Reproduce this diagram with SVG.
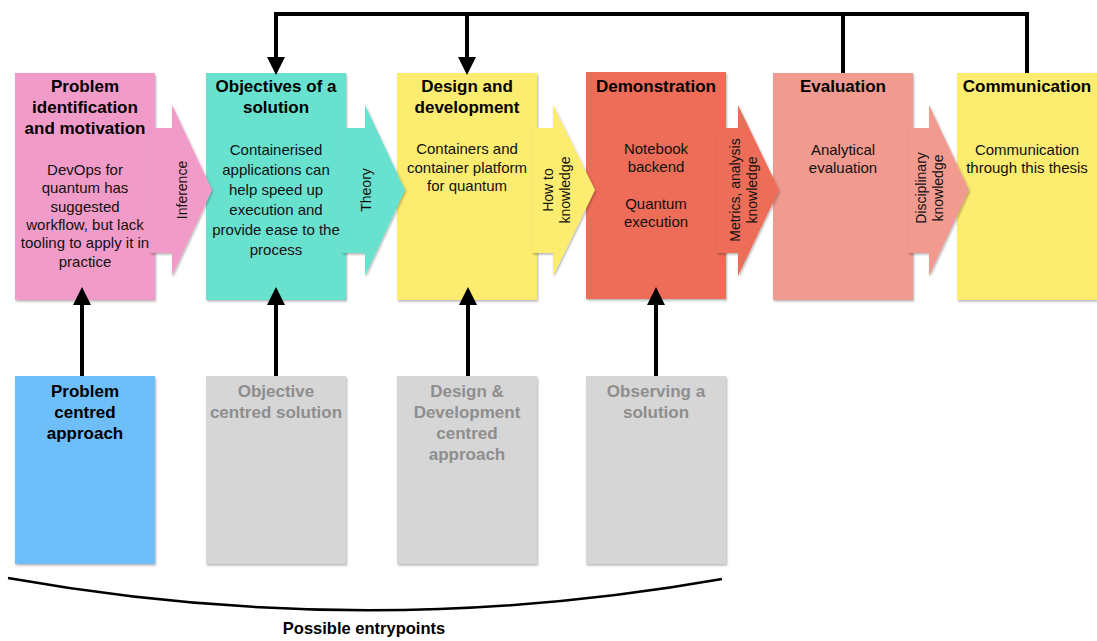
<svg xmlns="http://www.w3.org/2000/svg" width="1097" height="641" viewBox="0 0 1097 641">
<defs>
<filter id="sh" x="-10%" y="-10%" width="130%" height="130%">
<feDropShadow dx="1" dy="1.5" stdDeviation="1.2" flood-color="#000" flood-opacity="0.3"/>
</filter>
</defs>
<style>
text{font-family:"Liberation Sans",Arial,Helvetica,sans-serif;fill:#111;text-anchor:middle}
.t{font-size:17px;font-weight:bold;fill:#000}
.b{font-size:15px}
.r{font-size:14px}
.g{font-size:17px;font-weight:bold;fill:#8e8e8e}
.box{filter:url(#sh)}
.ln{stroke:#000;stroke-width:4;fill:none}
</style>
<rect width="1097" height="641" fill="#fff"/>

<g id="problem-identification">
<rect class="box" x="15" y="73" width="140" height="227" fill="#F19BC8"/>
<text class="t" x="85" y="92">Problem</text>
<text class="t" x="85" y="113">identification</text>
<text class="t" x="85" y="134">and motivation</text>
<text class="b" x="85" y="175">DevOps for</text>
<text class="b" x="85" y="193">quantum has</text>
<text class="b" x="85" y="212">suggested</text>
<text class="b" x="85" y="230">workflow, but lack</text>
<text class="b" x="85" y="248">tooling to apply it in</text>
<text class="b" x="85" y="267">practice</text>
</g>

<g id="objectives">
<rect class="box" x="206" y="73" width="140" height="227" fill="#69E1CF"/>
<text class="t" x="276" y="92">Objectives of a</text>
<text class="t" x="276" y="113">solution</text>
<text class="b" x="276" y="155">Containerised</text>
<text class="b" x="276" y="175">applications can</text>
<text class="b" x="276" y="195">help speed up</text>
<text class="b" x="276" y="215">execution and</text>
<text class="b" x="276" y="235">provide ease to the</text>
<text class="b" x="276" y="255">process</text>
</g>

<g id="design-development">
<rect class="box" x="397" y="73" width="140" height="227" fill="#FCEC6F"/>
<text class="t" x="467" y="92">Design and</text>
<text class="t" x="467" y="113">development</text>
<text class="b" x="467" y="154">Containers and</text>
<text class="b" x="467" y="173">container platform</text>
<text class="b" x="467" y="191">for quantum</text>
</g>

<g id="demonstration">
<rect class="box" x="586" y="72" width="140" height="227" fill="#ED6D58"/>
<text class="t" x="656" y="92">Demonstration</text>
<text class="b" x="656" y="154">Notebook</text>
<text class="b" x="656" y="172">backend</text>
<text class="b" x="656" y="209">Quantum</text>
<text class="b" x="656" y="227">execution</text>
</g>

<g id="evaluation">
<rect class="box" x="773" y="73" width="140" height="227" fill="#F19A8F"/>
<text class="t" x="843" y="92">Evaluation</text>
<text class="b" x="843" y="155">Analytical</text>
<text class="b" x="843" y="173">evaluation</text>
</g>

<g id="communication">
<rect class="box" x="957" y="73" width="140" height="227" fill="#FCEC6F"/>
<text class="t" x="1027" y="92">Communication</text>
<text class="b" x="1027" y="155">Communication</text>
<text class="b" x="1027" y="173">through this thesis</text>
</g>

<g id="arrow-inference">
<polygon class="box" points="150,128 172,128 172,105 212,190 172,276 172,253 150,253" fill="#F19BC8"/>
<text class="r" transform="translate(187,190) rotate(-90)">Inference</text>
</g>
<g id="arrow-theory">
<polygon class="box" points="342,128 365,128 365,105 405,190 365,276 365,253 342,253" fill="#69E1CF"/>
<text class="r" transform="translate(371,190) rotate(-90)">Theory</text>
</g>
<g id="arrow-howto">
<polygon class="box" points="532,128 553,128 553,105 595,190 553,276 553,253 532,253" fill="#FCEC6F"/>
<text class="r" transform="translate(553,190) rotate(-90)">How to</text>
<text class="r" transform="translate(570,190) rotate(-90)">knowledge</text>
</g>
<g id="arrow-metrics">
<polygon class="box" points="717,128 738,128 738,105 779,190 738,276 738,253 717,253" fill="#ED6D58"/>
<text class="r" transform="translate(740,190) rotate(-90)">Metrics, analysis</text>
<text class="r" transform="translate(757,190) rotate(-90)">knowledge</text>
</g>
<g id="arrow-disciplinary">
<polygon class="box" points="908,128 929,128 929,105 969,190 929,276 929,253 908,253" fill="#F19A8F"/>
<text class="r" transform="translate(926,188) rotate(-90)">Disciplinary</text>
<text class="r" transform="translate(943,188) rotate(-90)">knowledge</text>
</g>

<g id="problem-centred">
<rect class="box" x="15" y="376" width="140" height="188" fill="#6EBEFA"/>
<text class="t" x="85" y="397">Problem</text>
<text class="t" x="85" y="418">centred</text>
<text class="t" x="85" y="439">approach</text>
</g>
<g id="objective-centred">
<rect class="box" x="206" y="376" width="140" height="188" fill="#D6D6D6"/>
<text class="g" x="276" y="397">Objective</text>
<text class="g" x="276" y="418">centred solution</text>
</g>
<g id="design-centred">
<rect class="box" x="397" y="376" width="140" height="188" fill="#D6D6D6"/>
<text class="g" x="467" y="397">Design &amp;</text>
<text class="g" x="467" y="418">Development</text>
<text class="g" x="467" y="439">centred</text>
<text class="g" x="467" y="460">approach</text>
</g>
<g id="observing">
<rect class="box" x="586" y="376" width="140" height="188" fill="#D6D6D6"/>
<text class="g" x="656" y="397">Observing a</text>
<text class="g" x="656" y="418">solution</text>
</g>

<g id="connectors">
<polyline class="ln" points="1027,73 1027,14 276,14 276,58"/>
<line class="ln" x1="843" y1="73" x2="843" y2="14"/>
<line class="ln" x1="467" y1="14" x2="467" y2="58"/>
<polygon points="267,57 285,57 276,75"/>
<polygon points="458,57 476,57 467,75"/>
<line class="ln" x1="82" y1="376" x2="82" y2="304"/>
<line class="ln" x1="276" y1="376" x2="276" y2="304"/>
<line class="ln" x1="468" y1="376" x2="468" y2="304"/>
<line class="ln" x1="656" y1="376" x2="656" y2="304"/>
<polygon points="73,305 91,305 82,287"/>
<polygon points="267,305 285,305 276,287"/>
<polygon points="459,305 477,305 468,287"/>
<polygon points="647,305 665,305 656,287"/>
</g>

<g id="entrypoints">
<path d="M8,578 Q366,642 722,579" fill="none" stroke="#000" stroke-width="2.5"/>
<text x="364" y="634" style="font-size:16.5px;font-weight:bold;fill:#000">Possible entrypoints</text>
</g>
</svg>
